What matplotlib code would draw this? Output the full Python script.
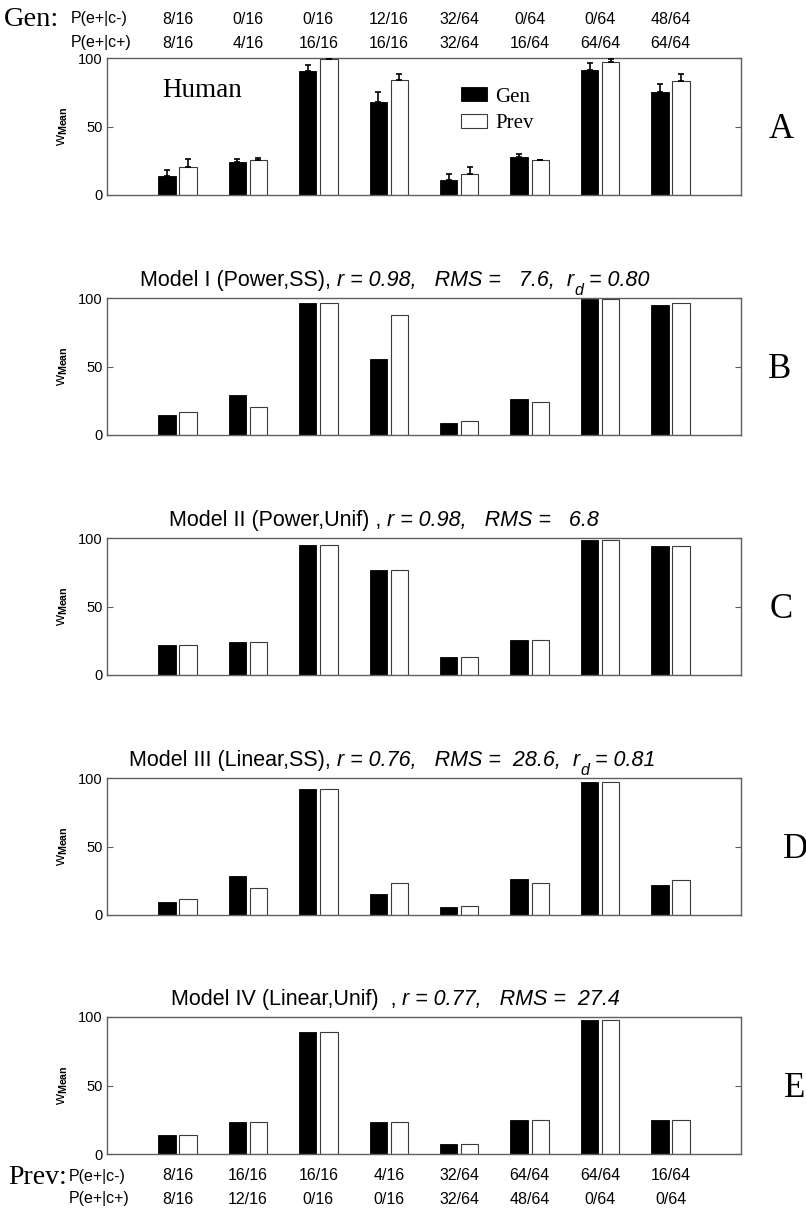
import matplotlib
matplotlib.use("Agg")
import matplotlib.pyplot as plt
from matplotlib.transforms import blended_transform_factory
import numpy as np

plt.rcParams['font.family'] = ['Liberation Sans', 'DejaVu Sans']
plt.rcParams['mathtext.fontset'] = 'custom'
plt.rcParams['mathtext.rm'] = 'Liberation Sans'
plt.rcParams['mathtext.it'] = 'Liberation Sans:italic'
plt.rcParams['mathtext.bf'] = 'Liberation Sans:bold'

# ---------------- data ----------------
gen_cminus = ["8/16", "0/16", "0/16", "12/16", "32/64", "0/64", "0/64", "48/64"]
gen_cplus = ["8/16", "4/16", "16/16", "16/16", "32/64", "16/64", "64/64", "64/64"]
prev_cminus = ["8/16", "16/16", "16/16", "4/16", "32/64", "64/64", "64/64", "16/64"]
prev_cplus = ["8/16", "12/16", "0/16", "0/16", "32/64", "48/64", "0/64", "0/64"]

human_gen = [14.1, 24.1, 90.5, 68.0, 10.7, 27.6, 91.5, 75.1]
human_gen_err = [4.2, 2.5, 4.6, 6.9, 4.4, 2.6, 4.6, 5.9]
human_prev = [20.2, 25.4, 99.3, 83.7, 15.4, 25.4, 97.3, 82.9]
human_prev_err = [5.8, 1.9, 0.8, 4.8, 4.8, 0.5, 2.0, 5.6]

m1_gen = [14.6, 29.5, 96.1, 55.4, 9.0, 26.6, 99.5, 94.6]
m1_prev = [16.6, 20.7, 96.1, 87.3, 10.0, 24.1, 99.3, 96.1]
m2_gen = [22.1, 24.1, 94.9, 76.9, 12.9, 25.3, 98.8, 94.2]
m2_prev = [22.1, 24.1, 94.9, 76.9, 12.9, 25.3, 98.3, 94.2]
m3_gen = [9.2, 28.6, 91.8, 15.3, 5.8, 26.2, 97.3, 22.0]
m3_prev = [11.9, 19.9, 91.8, 23.5, 6.8, 23.5, 97.3, 25.2]
m4_gen = [13.6, 23.1, 89.3, 23.1, 7.3, 24.8, 97.6, 24.8]
m4_prev = [13.6, 23.1, 89.3, 23.1, 7.3, 24.8, 97.6, 24.8]

# title pieces: (text, kind) kind: 'n' normal, 'i' italic, 's' italic subscript
titles = [
    None,
    [("Model I (Power,SS), ", 'n'), ("r = 0.98,   RMS =   7.6,  r", 'i'), ("d", 's'), (" = 0.80", 'i')],
    [("Model II (Power,Unif) , ", 'n'), ("r = 0.98,   RMS =   6.8", 'i')],
    [("Model III (Linear,SS), ", 'n'), ("r = 0.76,   RMS =  28.6,  r", 'i'), ("d", 's'), (" = 0.81", 'i')],
    [("Model IV (Linear,Unif)  , ", 'n'), ("r = 0.77,   RMS =  27.4", 'i')],
]
panel_letters = ["A", "B", "C", "D", "E"]
yticks = [0, 50, 100]

# ---------------- layout ----------------
W, H = 806, 1208
fig = plt.figure(figsize=(W / 100, H / 100), dpi=100)

ax_left, ax_right = 107, 741
ax_h = 137
tops = [58, 298, 538, 778, 1017]
title_x = [None, 140, 169, 129, 171]
letter_x = [781, 780, 781, 795, 795]

gens = [human_gen, m1_gen, m2_gen, m3_gen, m4_gen]
prevs = [human_prev, m1_prev, m2_prev, m3_prev, m4_prev]

x = np.arange(1, 9)
bw = 0.245
off = 0.15
spine_col = '#606060'
title_fs = 15.5
axes = []
for i in range(5):
    top = tops[i]
    ax = fig.add_axes([ax_left / W, 1 - (top + ax_h) / H, (ax_right - ax_left) / W, ax_h / H])
    axes.append(ax)
    bg = ax.bar(x - off, gens[i], width=bw, color='black', edgecolor='black', linewidth=0.6, label='Gen', zorder=2)
    bp = ax.bar(x + off, prevs[i], width=bw, color='white', edgecolor='#3a3a3a', linewidth=0.8, label='Prev', zorder=2)
    if i == 0:
        ax.errorbar(x - off, human_gen, yerr=[np.zeros(8), human_gen_err], fmt='none',
                    ecolor='black', elinewidth=1.2, capsize=2.5, capthick=1.2, zorder=3)
        ax.errorbar(x + off, human_prev, yerr=[np.zeros(8), human_prev_err], fmt='none',
                    ecolor='black', elinewidth=1.2, capsize=2.5, capthick=1.2, zorder=3)
        ax.text(0.79, 76.5, "Human", family='Liberation Serif', fontsize=19.5, va='center', ha='left')
        ax.legend(handles=[bg, bp], labels=['Gen', 'Prev'], loc='upper left',
                  bbox_to_anchor=(0.558, 0.785), frameon=False, borderpad=0, borderaxespad=0,
                  prop={'family': 'Liberation Serif', 'size': 15}, handlelength=1.25,
                  handleheight=0.65, handletextpad=0.42, labelspacing=0.33)
    ax.set_xlim(0, 9)
    ax.set_ylim(0, 100)
    ax.set_xticks([])
    ax.set_yticks(yticks)
    ax.tick_params(axis='y', direction='in', length=4.5, right=True, labelsize=10.5,
                   color=spine_col, pad=3)
    for s in ax.spines.values():
        s.set_color(spine_col)
        s.set_linewidth(1.0)
    ax.set_ylabel(r'$\mathregular{w}_{\mathbf{Mean}}$', fontsize=11, labelpad=6)

    # rich title
    if titles[i]:
        ybase = 1 - (top - 12) / H
        prev_t = None
        main_t = None
        for txt, kind in titles[i]:
            style = 'normal' if kind == 'n' else 'italic'
            if prev_t is None:
                t = fig.text(title_x[i] / W, ybase, txt, fontsize=title_fs, fontstyle=style,
                             ha='left', va='baseline')
                main_t = t
            elif kind == 's':
                t = fig.text(0, 0, "", fontsize=1)  # placeholder not used
                t.remove()
                t = ax.annotate(txt, xy=(1, 0), xycoords=prev_t, xytext=(0.5, -5),
                                textcoords='offset points', fontsize=11.5, fontstyle='italic',
                                ha='left', va='bottom', annotation_clip=False)
            else:
                if kind == 'i' and prev_t is not main_t and prev_t.get_fontsize() != title_fs:
                    t = ax.annotate(txt, xy=(1, 0), xycoords=(prev_t, main_t), fontsize=title_fs,
                                    fontstyle=style, ha='left', va='bottom', annotation_clip=False)
                else:
                    t = ax.annotate(txt, xy=(1, 0), xycoords=prev_t, fontsize=title_fs,
                                    fontstyle=style, ha='left', va='bottom', annotation_clip=False)
            prev_t = t
            if kind != 's':
                main_t = t

    fig.text(letter_x[i] / W, 1 - (top + ax_h / 2 + 11.5) / H, panel_letters[i], family='Liberation Serif',
             fontsize=25, ha='center', va='baseline')

lab_fs = 11.5
# top labels (Gen)
trA = blended_transform_factory(axes[0].transData, fig.transFigure)
fig.text(4 / W, 1 - 19 / H, "Gen:", family='Liberation Serif', fontsize=20.5, ha='left', va='center')
fig.text(71 / W, 1 - 19 / H, "P(e+|c-)", fontsize=lab_fs, ha='left', va='center')
fig.text(71 / W, 1 - 43 / H, "P(e+|c+)", fontsize=lab_fs, ha='left', va='center')
for j in range(8):
    axes[0].text(x[j], 1 - 19 / H, gen_cminus[j], transform=trA, fontsize=lab_fs, ha='center', va='center')
    axes[0].text(x[j], 1 - 43 / H, gen_cplus[j], transform=trA, fontsize=lab_fs, ha='center', va='center')

# bottom labels (Prev)
trE = blended_transform_factory(axes[4].transData, fig.transFigure)
fig.text(8 / W, 1 - 1177 / H, "Prev:", family='Liberation Serif', fontsize=20, ha='left', va='center')
fig.text(69 / W, 1 - 1176 / H, "P(e+|c-)", fontsize=lab_fs, ha='left', va='center')
fig.text(69 / W, 1 - 1199 / H, "P(e+|c+)", fontsize=lab_fs, ha='left', va='center')
for j in range(8):
    axes[4].text(x[j], 1 - 1176 / H, prev_cminus[j], transform=trE, fontsize=lab_fs, ha='center', va='center')
    axes[4].text(x[j], 1 - 1199 / H, prev_cplus[j], transform=trE, fontsize=lab_fs, ha='center', va='center')

fig.savefig("out.png", dpi=100)
